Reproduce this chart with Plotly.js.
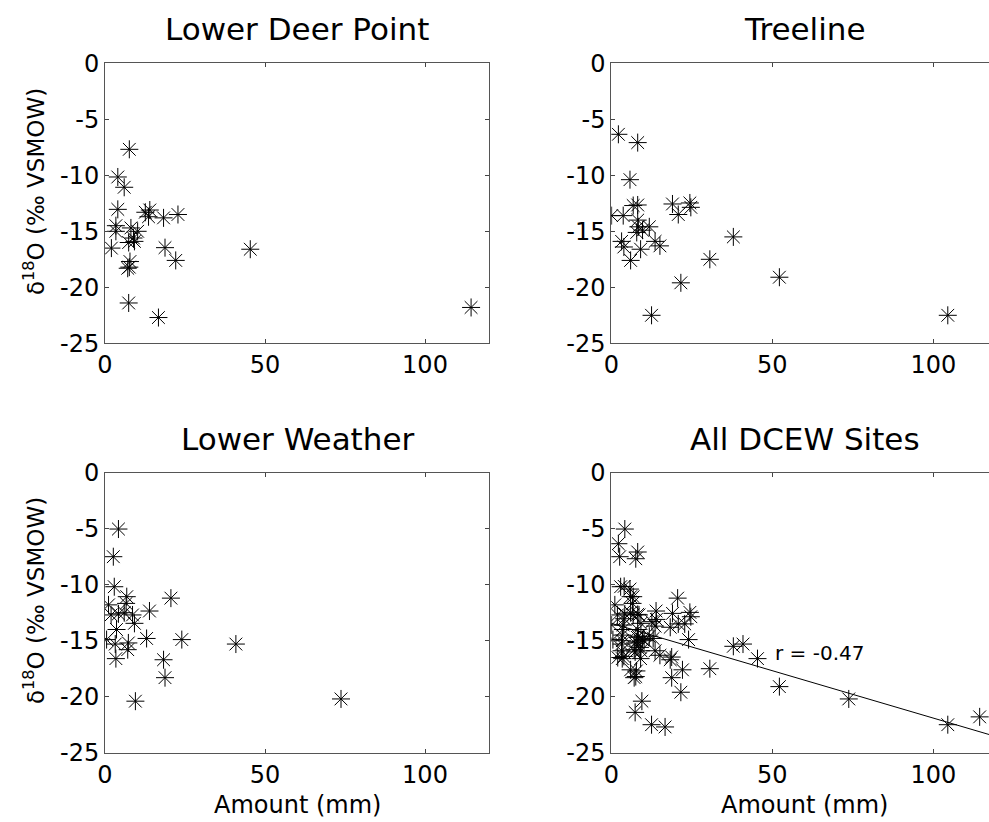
<!DOCTYPE html>
<html>
<head>
<meta charset="utf-8">
<script src="https://cdn.plot.ly/plotly-3.0.1.min.js"></script>
<style>html,body{margin:0;padding:0;background:#fff;}#chart{width:989px;height:822px;}</style>
</head>
<body>
<div id="chart"></div>
<script>
// ---- data (amount in mm, d18O in permil VSMOW) ----
const ldpAmount = [7.6, 4.0, 6.0, 4.0, 12.6, 14.0, 13.6, 18.3, 22.8, 3.4, 3.4, 8.1, 10.2, 8.9, 7.4, 9.2, 2.0, 18.75, 45.4, 22.1, 7.8, 7.1, 7.6, 7.4, 16.7, 114.4];
const ldpD18O   = [-7.68, -10.15, -11.07, -13.04, -13.3, -13.1, -13.7, -13.8, -13.5, -14.5, -15.0, -14.7, -15.0, -15.6, -16.0, -15.9, -16.5, -16.46, -16.6, -17.6, -17.7, -18.3, -18.2, -21.4, -22.7, -21.8];

const treeAmount = [2.2, 8.2, 5.8, 6.8, 8.2, 19.0, 24.4, 24.7, 20.8, 0.1, 3.7, 8.2, 8.4, 9.7, 11.8, 7.9, 37.9, 3.2, 3.9, 13.6, 15.1, 9.1, 6.0, 30.6, 21.6, 52.2, 12.5, 104.5];
const treeD18O   = [-6.34, -7.08, -10.39, -12.7, -12.65, -12.56, -12.47, -12.86, -13.5, -13.6, -13.6, -14.0, -14.6, -14.9, -14.6, -15.1, -15.5, -15.9, -16.4, -15.9, -16.3, -16.6, -17.6, -17.5, -19.6, -19.1, -22.5, -22.5];

const lwAmount = [4.2, 2.6, 2.9, 6.8, 20.6, 1.1, 6.6, 13.9, 1.9, 4.2, 6.0, 8.6, 9.2, 3.6, 13.0, 24.0, 0.5, 3.2, 7.3, 7.1, 40.9, 3.4, 18.3, 18.75, 9.5, 73.75];
const lwD18O   = [-5.03, -7.5, -10.18, -11.07, -11.2, -11.8, -11.67, -12.35, -12.7, -12.6, -12.5, -12.7, -13.45, -14.0, -14.8, -14.9, -14.9, -15.3, -15.2, -15.8, -15.3, -16.6, -16.7, -18.3, -20.4, -20.2];

const panelTitles = ["Lower Deer Point", "Treeline", "Lower Weather", "All DCEW Sites"];
const yTickVals = [0, -5, -10, -15, -20, -25];
const yTickText = ["0", "-5", "-10", "-15", "-20", "-25"];
const xTickVals = [0, 50, 100];
const xTickText = ["0", "50", "100"];
const fitXRange = [0, 120];
const rLabel = "r = -0.47";

// ---- combined & fit ----
const allAmount = ldpAmount.concat(treeAmount, lwAmount);
const allD18O = ldpD18O.concat(treeD18O, lwD18O);
function linfit(x, y) {
  const n = x.length;
  let sx = 0, sy = 0, sxx = 0, sxy = 0;
  for (let i = 0; i < n; i++) { sx += x[i]; sy += y[i]; sxx += x[i]*x[i]; sxy += x[i]*y[i]; }
  const b = (n*sxy - sx*sy) / (n*sxx - sx*sx);
  const a = (sy - b*sx) / n;
  return {a, b};
}
const fit = linfit(allAmount, allD18O);
const fitY = fitXRange.map(v => fit.a + fit.b * v);

const FONT = "DejaVu Sans, Liberation Sans, Arial, sans-serif";
const mk = {symbol: 'asterisk-open', size: 15, color: '#000', line: {width: 1, color: '#000'}};
function sc(x, y, xa, ya) {
  return {x, y, xaxis: xa, yaxis: ya, type: 'scatter', mode: 'markers', marker: mk, showlegend: false, hoverinfo: 'skip'};
}
const traces = [
  sc(ldpAmount, ldpD18O, 'x', 'y'),
  sc(treeAmount, treeD18O, 'x2', 'y2'),
  sc(lwAmount, lwD18O, 'x3', 'y3'),
  sc(allAmount, allD18O, 'x4', 'y4'),
  {x: fitXRange, y: fitY, xaxis: 'x4', yaxis: 'y4', type: 'scatter', mode: 'lines', line: {color: '#000', width: 1}, showlegend: false, hoverinfo: 'skip'}
];

const L = [105/989, 489/989];
const R = [611.3/989, 1];
const T = [1 - 343.3/822, 1 - 63.3/822];
const B = [1 - 752.7/822, 1 - 472.7/822];
const rightRange = [0, (989 - 611.3) / 3.22];

function xa(dom, range, anchor) {
  return {domain: dom, range: range, anchor: anchor, tickvals: xTickVals, ticktext: xTickText,
    ticks: 'inside', ticklen: 4, tickcolor: '#444', showline: true, linecolor: '#555', linewidth: 1,
    mirror: 'ticks', showgrid: false, zeroline: false, tickfont: {family: FONT, size: 24, color: '#000'}};
}
function ya(dom, anchor, mirror) {
  return {domain: dom, range: [-25, 0], anchor: anchor, tickvals: yTickVals, ticktext: yTickText,
    ticks: 'inside', ticklen: 4, tickcolor: '#444', showline: true, linecolor: '#555', linewidth: 1,
    mirror: mirror, showgrid: false, zeroline: false, tickfont: {family: FONT, size: 24, color: '#000'}};
}

function ann(text, x, y, size, extra) {
  return Object.assign({text, x, y, xref: 'paper', yref: 'paper', showarrow: false,
    xanchor: 'center', yanchor: 'middle', font: {family: FONT, size: size, color: '#000'}}, extra || {});
}
const yLab = "δ<sup>18</sup>O (‰ VSMOW)";
const annotations = [
  ann(panelTitles[0], 297/989, 1 - 29/822, 31),
  ann(panelTitles[1], 804.5/989, 1 - 29/822, 31),
  ann(panelTitles[2], 297/989, 1 - 438.5/822, 31),
  ann(panelTitles[3], 804.5/989, 1 - 438.5/822, 31),
  ann(yLab, 34/989, 1 - 192/822, 23, {textangle: -90}),
  ann(yLab, 34/989, 1 - 601/822, 23, {textangle: -90}),
  ann("Amount (mm)", 297/989, 1 - 805/822, 24),
  ann("Amount (mm)", 804.5/989, 1 - 805/822, 24),
  {text: rLabel, x: 50.3, y: -16.1, xref: 'x4', yref: 'y4', showarrow: false, xanchor: 'left', yanchor: 'middle',
   font: {family: FONT, size: 20, color: '#000'}}
];

const layout = {
  width: 989, height: 822, margin: {l: 0, r: 0, t: 0, b: 0},
  paper_bgcolor: '#fff', plot_bgcolor: '#fff', showlegend: false,
  xaxis: xa(L, [0, 120], 'y'),
  yaxis: ya(T, 'x', 'ticks'),
  xaxis2: xa(R, rightRange, 'y2'),
  yaxis2: ya(T, 'x2', false),
  xaxis3: xa(L, [0, 120], 'y3'),
  yaxis3: ya(B, 'x3', 'ticks'),
  xaxis4: xa(R, rightRange, 'y4'),
  yaxis4: ya(B, 'x4', false),
  annotations: annotations
};

Plotly.newPlot('chart', traces, layout, {staticPlot: true, displayModeBar: false});
</script>
</body>
</html>
